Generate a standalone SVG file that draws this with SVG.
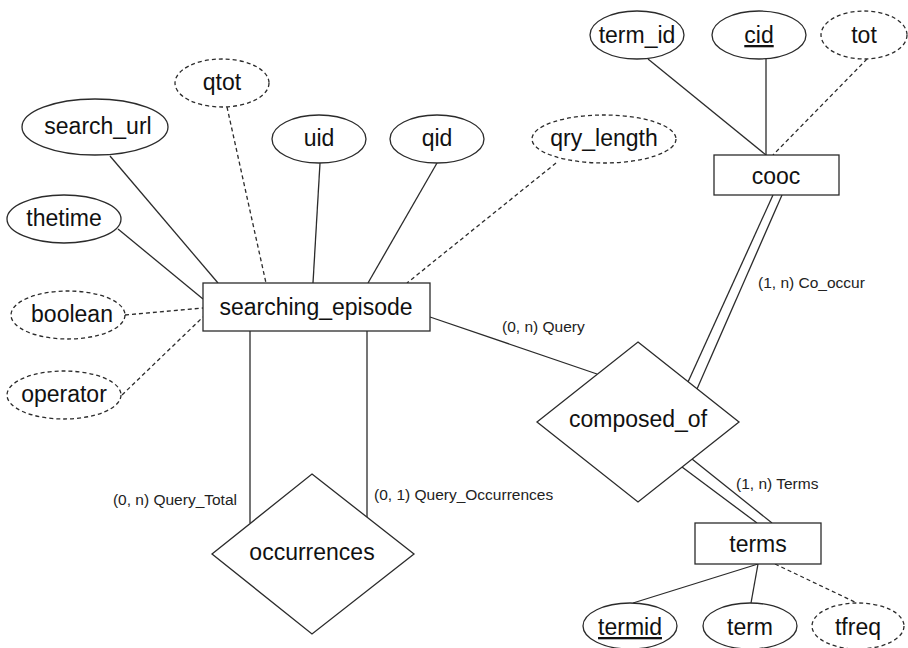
<svg xmlns="http://www.w3.org/2000/svg" width="908" height="648" viewBox="0 0 908 648">
<style>
.shape{fill:#fff;stroke:#2b2b2b;stroke-width:1.3}
.dash{stroke-dasharray:4 3}
.lbl{font-family:"Liberation Sans",Arial,Helvetica,sans-serif;font-size:23px;fill:#111;text-anchor:middle}
.elbl{font-family:"Liberation Sans",Arial,Helvetica,sans-serif;font-size:15.5px;fill:#222}
.ul{text-decoration:underline}
#connectors line{stroke:#2b2b2b;stroke-width:1.3;fill:none}
</style>
<rect width="908" height="648" fill="#fff"/>
<g id="connectors">
<line x1="110" y1="156" x2="218" y2="283"/>
<line x1="118" y1="229" x2="203" y2="299"/>
<line class="dash" x1="227" y1="107" x2="266" y2="283"/>
<line x1="320" y1="163" x2="313" y2="283"/>
<line x1="437" y1="163" x2="368" y2="283"/>
<line class="dash" x1="556" y1="163" x2="407" y2="283"/>
<line class="dash" x1="125" y1="315" x2="203" y2="308"/>
<line class="dash" x1="122" y1="395" x2="203" y2="317"/>
<line x1="430" y1="317" x2="597" y2="374"/>
<line x1="250" y1="331" x2="250" y2="523"/>
<line x1="367" y1="331" x2="367" y2="518"/>
<line x1="773" y1="195" x2="688" y2="382"/>
<line x1="782" y1="195" x2="697" y2="389"/>
<line x1="682" y1="467" x2="757" y2="523"/>
<line x1="692" y1="459" x2="772" y2="523"/>
<line x1="648" y1="59" x2="766" y2="155"/>
<line x1="766" y1="59" x2="766" y2="155"/>
<line class="dash" x1="867" y1="59" x2="773" y2="155"/>
<line x1="633" y1="603" x2="758" y2="564"/>
<line x1="751" y1="603" x2="758" y2="564"/>
<line class="dash" x1="775" y1="564" x2="857" y2="603"/>
<text class="elbl" x="502" y="332">(0, n) Query</text>
<text class="elbl" x="758" y="288">(1, n) Co_occur</text>
<text class="elbl" x="374" y="500">(0, 1) Query_Occurrences</text>
<text class="elbl" x="237" y="505" text-anchor="end">(0, n) Query_Total</text>
<text class="elbl" x="736" y="489">(1, n) Terms</text>
</g>
<g id="searching_episode"><rect class="shape" x="203" y="283" width="227" height="48"/><text class="lbl" x="316" y="315">searching_episode</text></g>
<g id="cooc"><rect class="shape" x="714" y="155" width="125" height="40"/><text class="lbl" x="776" y="184">cooc</text></g>
<g id="terms"><rect class="shape" x="695" y="523" width="126" height="41"/><text class="lbl" x="758" y="552">terms</text></g>
<g id="composed_of"><polygon class="shape" points="638,342 739,422 638,502 537,422"/><text class="lbl" x="638" y="427">composed_of</text></g>
<g id="occurrences"><polygon class="shape" points="312,474 414,554 312,634 212,554"/><text class="lbl" x="312" y="560">occurrences</text></g>
<g id="qtot"><ellipse class="shape dash" cx="222" cy="83" rx="47" ry="24"/><text class="lbl" x="222" y="90">qtot</text></g>
<g id="search_url"><ellipse class="shape" cx="95" cy="127" rx="73" ry="28"/><text class="lbl" x="98" y="134">search_url</text></g>
<g id="thetime"><ellipse class="shape" cx="64" cy="219" rx="57" ry="24"/><text class="lbl" x="64" y="226">thetime</text></g>
<g id="uid"><ellipse class="shape" cx="319" cy="139" rx="47" ry="24"/><text class="lbl" x="319" y="146">uid</text></g>
<g id="qid"><ellipse class="shape" cx="437" cy="139" rx="47" ry="24"/><text class="lbl" x="437" y="146">qid</text></g>
<g id="qry_length"><ellipse class="shape dash" cx="604" cy="139" rx="72" ry="24"/><text class="lbl" x="604" y="146">qry_length</text></g>
<g id="boolean"><ellipse class="shape dash" cx="68" cy="315" rx="57" ry="24"/><text class="lbl" x="72" y="322">boolean</text></g>
<g id="operator"><ellipse class="shape dash" cx="64" cy="395" rx="57" ry="24"/><text class="lbl" x="64" y="402">operator</text></g>
<g id="term_id"><ellipse class="shape" cx="637" cy="35" rx="47" ry="24"/><text class="lbl" x="637" y="43">term_id</text></g>
<g id="cid"><ellipse class="shape" cx="759" cy="35" rx="47" ry="24"/><text class="lbl ul" x="759" y="43">cid</text></g>
<g id="tot"><ellipse class="shape dash" cx="864" cy="35" rx="43" ry="24"/><text class="lbl" x="864" y="43">tot</text></g>
<g id="termid"><ellipse class="shape" cx="630" cy="626" rx="47" ry="23"/><text class="lbl ul" x="630" y="635">termid</text></g>
<g id="term"><ellipse class="shape" cx="750" cy="626" rx="47" ry="23"/><text class="lbl" x="750" y="635">term</text></g>
<g id="tfreq"><ellipse class="shape dash" cx="858" cy="626" rx="46" ry="23"/><text class="lbl" x="858" y="635">tfreq</text></g>
</svg>
